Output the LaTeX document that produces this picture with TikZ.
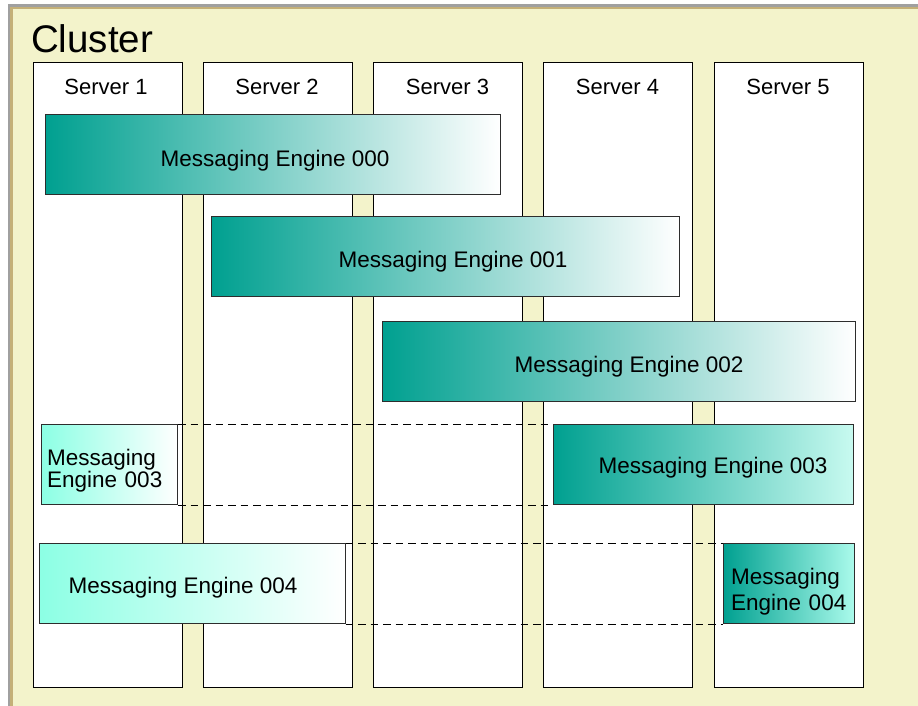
\documentclass[tikz,border=0pt]{standalone}
\usepackage{fontspec}
\setmainfont{Liberation Sans}
\definecolor{bgyellow}{RGB}{243,243,203}
\definecolor{tanb}{RGB}{196,176,120}
\definecolor{outergray}{RGB}{160,160,160}
\definecolor{teal1}{RGB}{0,160,144}
\definecolor{aqua1}{RGB}{140,255,228}
\definecolor{aquaend}{RGB}{200,250,240}
\definecolor{aquaend2}{RGB}{170,250,235}
\definecolor{boxline}{RGB}{45,45,45}
\begin{document}
\begin{tikzpicture}[x=1pt,y=-1pt,
  server/.style={draw=black, fill=white, line width=1.1pt, anchor=north west, inner sep=0pt, minimum width=149pt, minimum height=625pt},
  srvlabel/.style={anchor=base, inner sep=0pt, font=\fontsize{22}{24}\selectfont},
  mebox/.style={draw=boxline, line width=1.1pt, anchor=north west, inner sep=0pt},
  dark/.style={mebox, left color=teal1, right color=white},
  light/.style={mebox, left color=aqua1, right color=white},
  metext/.style={anchor=base, inner sep=0pt, font=\fontsize{22.5}{24}\selectfont},
  metwo/.style={anchor=base west, inner sep=0pt, align=left, text width=120pt},
  link/.style={draw=black, line width=0.9pt, dash pattern=on 7.5pt off 5pt}
]
\useasboundingbox (0,0) rectangle (918,705);
% background frame
\fill[outergray] (8,4) rectangle (930,720);
\fill[tanb] (10,6.5) rectangle (930,720);
\fill[bgyellow] (12.5,9) rectangle (930,720);
\node[anchor=base west, inner sep=0pt, font=\fontsize{38.5}{40}\selectfont] (title) at (31,52) {Cluster};
% servers
\node[server] (s1) at (33,62) {};
\node[server] (s2) at (203,62) {};
\node[server] (s3) at (373,62) {};
\node[server] (s4) at (543,62) {};
\node[server] (s5) at (713.5,62) {};
\node[srvlabel] (s1l) at (106,94) {Server 1};
\node[srvlabel] (s2l) at (277,94) {Server 2};
\node[srvlabel] (s3l) at (447.5,94) {Server 3};
\node[srvlabel] (s4l) at (617.5,94) {Server 4};
\node[srvlabel] (s5l) at (788,94) {Server 5};
% messaging engines
\node[dark, minimum width=455pt, minimum height=80pt] (me000) at (45,114) {};
\node[metext] (me000t) at (275,166) {Messaging Engine 000};
\node[dark, minimum width=468pt, minimum height=80pt] (me001) at (211,216) {};
\node[metext] (me001t) at (453,267) {Messaging Engine 001};
\node[dark, minimum width=473pt, minimum height=80pt] (me002) at (382,321) {};
\node[metext] (me002t) at (629,372) {Messaging Engine 002};
\node[light, minimum width=136pt, minimum height=80pt] (me003l) at (41,424) {};
\node[metwo, font=\fontsize{22.5}{22.3}\selectfont] (me003lt) at (47,465) {Messaging\\Engine 003};
\node[mebox, left color=teal1, right color=aquaend, minimum width=300pt, minimum height=80pt] (me003r) at (553,424) {};
\node[metext] (me003rt) at (713,473) {Messaging Engine 003};
\node[light, minimum width=306pt, minimum height=80pt] (me004l) at (38.5,543) {};
\node[metext] (me004lt) at (183,593.5) {Messaging Engine 004};
\node[mebox, left color=teal1, right color=aquaend2, minimum width=131pt, minimum height=80pt] (me004r) at (722.5,543) {};
\node[metwo, font=\fontsize{22.5}{26}\selectfont] (me004rt) at (731,584) {Messaging\\Engine 004};
% dashed links
\draw[link] (me003l.north east) -- (me003r.north west);
\draw[link] (me003l.south east) -- (me003r.south west);
\draw[link] (me004l.north east) -- (me004r.north west);
\draw[link] (me004l.south east) -- (me004r.south west);
\end{tikzpicture}
\end{document}
